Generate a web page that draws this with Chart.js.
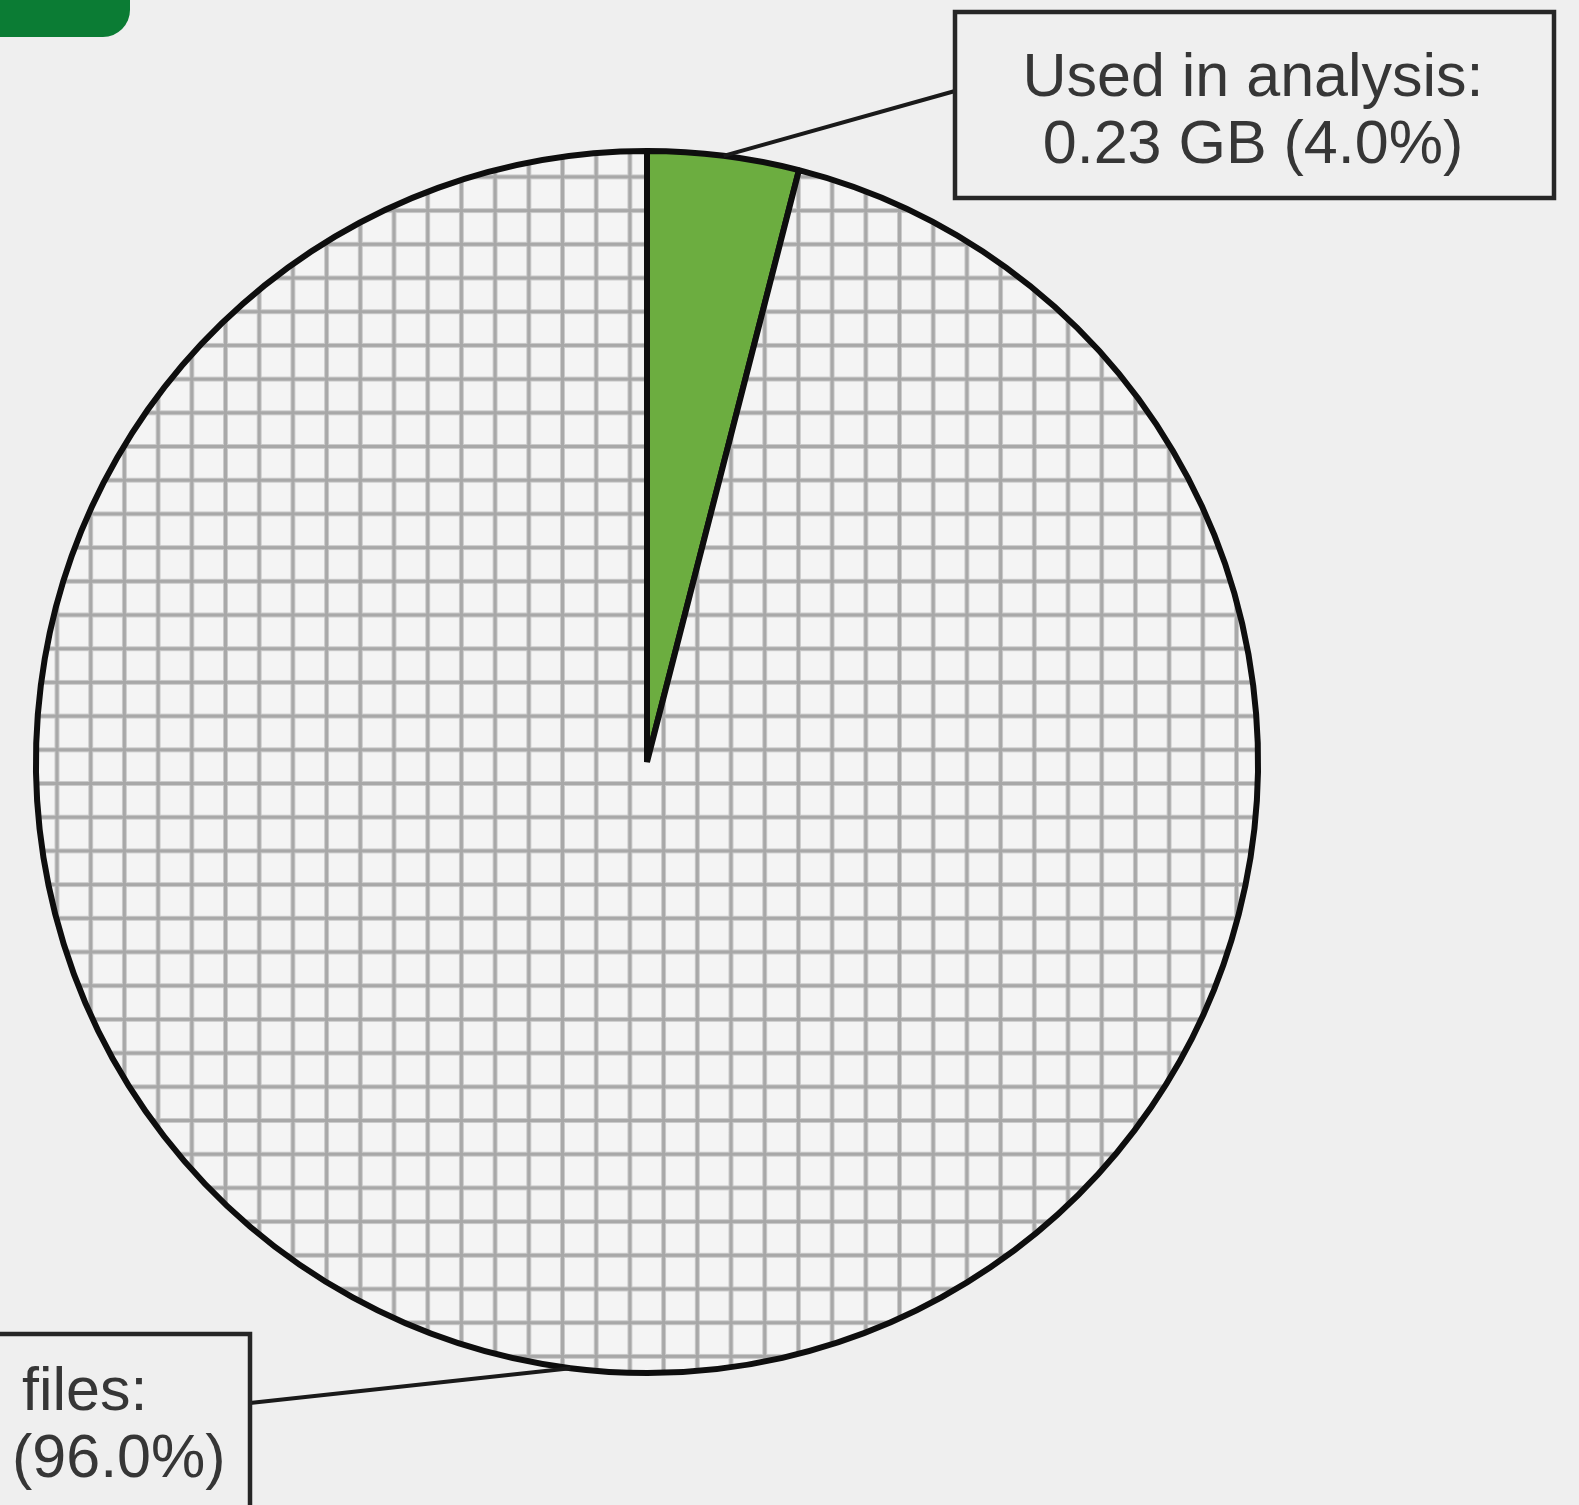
<!DOCTYPE html>
<html>
<head>
<meta charset="utf-8">
<script src="https://cdn.jsdelivr.net/npm/chart.js@4.4.1/dist/chart.umd.min.js"></script>
<style>
    html, body { margin: 0; padding: 0; background: #efefef; overflow: hidden; }
    #wrap { position: relative; width: 1579px; height: 1505px; }
    #pie-canvas { position: absolute; left: 0; top: 0; }
    #tab { position: absolute; left: 0; top: 0; width: 130px; height: 37px; background: #0b7c34; border-bottom-right-radius: 27px; }
</style>
</head>
<body>
<div id="wrap">
    <canvas id="pie-canvas" width="1579" height="1505"></canvas>
    <div id="tab"></div>
</div>
<script>
// disk usage split
const categories = ['Used in analysis', 'files']
const sizesGB = [0.23, 5.52]
const sliceColors = ['#6cad40', null]   // null -> grid paper fill

// grid paper fill for the big slice
gridPattern = (ctx) => {
    const cell = document.createElement('canvas')
    cell.width = 34
    cell.height = 34
    const c = cell.getContext('2d')
    c.fillStyle = '#f4f4f4'
    c.fillRect(0, 0, 34, 34)
    c.fillStyle = '#cacaca'
    c.fillRect(0, 0, 5, 34)
    c.fillRect(0, 0, 34, 5)
    c.fillStyle = '#a8a8a8'
    c.fillRect(1, 0, 3, 34)
    c.fillRect(0, 1, 34, 3)
    const pattern = ctx.createPattern(cell, 'repeat')
    pattern.setTransform(new DOMMatrix().translate(20.8, 5.9).scale(33.7 / 34))
    return pattern
}

// boxed labels joined to the slices by a leader line
const calloutPlugin = {
    id: 'callouts',
    afterDatasetsDraw(chart, args, opts) {
        const ctx = chart.ctx
        const meta = chart.getDatasetMeta(0)
        const total = sizesGB.reduce((p, c) => p + c, 0)
        ctx.save()
        meta.data.forEach((arc, i) => {
            const box = opts.boxes[i]
            const mid = (arc.startAngle + arc.endAngle) / 2
            const ax = arc.x + Math.cos(mid) * arc.outerRadius
            const ay = arc.y + Math.sin(mid) * arc.outerRadius

            ctx.strokeStyle = '#1a1a1a'
            ctx.lineWidth = 4
            ctx.beginPath()
            ctx.moveTo(ax, ay)
            ctx.lineTo(box.anchor[0], box.anchor[1])
            ctx.stroke()

            ctx.lineWidth = 4.5
            ctx.strokeStyle = '#262626'
            ctx.strokeRect(box.left, box.top, box.right - box.left, box.bottom - box.top)

            const pct = (sizesGB[i] / total * 100).toFixed(1)
            const size = box.showSize ? sizesGB[i].toFixed(2) + ' GB ' : ''
            ctx.fillStyle = '#363636'
            ctx.font = '61px "Liberation Sans", Arial, sans-serif'
            ctx.textAlign = box.align
            ctx.textBaseline = 'alphabetic'
            ctx.fillText(categories[i] + ':', box.textX[0], box.textY)
            ctx.fillText(size + '(' + pct + '%)', box.textX[1], box.textY + 67)
        })
        ctx.restore()
    }
}

createChart = () => {
    const canvas = document.getElementById('pie-canvas')
    const ctx = canvas.getContext('2d')
    const colors = sliceColors.map((c) => c || gridPattern(ctx))
    new Chart(canvas, {
        type: 'pie',
        data: {
            labels: categories,
            datasets: [{
                data: sizesGB,
                backgroundColor: colors,
                borderColor: '#0e0e0e',
                borderWidth: 6,
                hoverBorderWidth: 6,
                hoverOffset: 0
            }]
        },
        options: {
            responsive: false,
            animation: false,
            events: [],
            layout: {
                padding: { left: 33, top: 148, right: 318, bottom: 129 }
            },
            plugins: {
                legend: { display: false },
                tooltip: { enabled: false },
                callouts: {
                    boxes: [
                        { left: 955, top: 12, right: 1554, bottom: 198, anchor: [955, 91], align: 'center', textX: [1253, 1253], textY: 96, showSize: true },
                        { left: -300, top: 1334, right: 250, bottom: 1560, anchor: [250, 1403], align: 'left', textX: [22, 12], textY: 1410, showSize: false }
                    ]
                }
            }
        },
        plugins: [calloutPlugin]
    })
}

createChart()
</script>
</body>
</html>
